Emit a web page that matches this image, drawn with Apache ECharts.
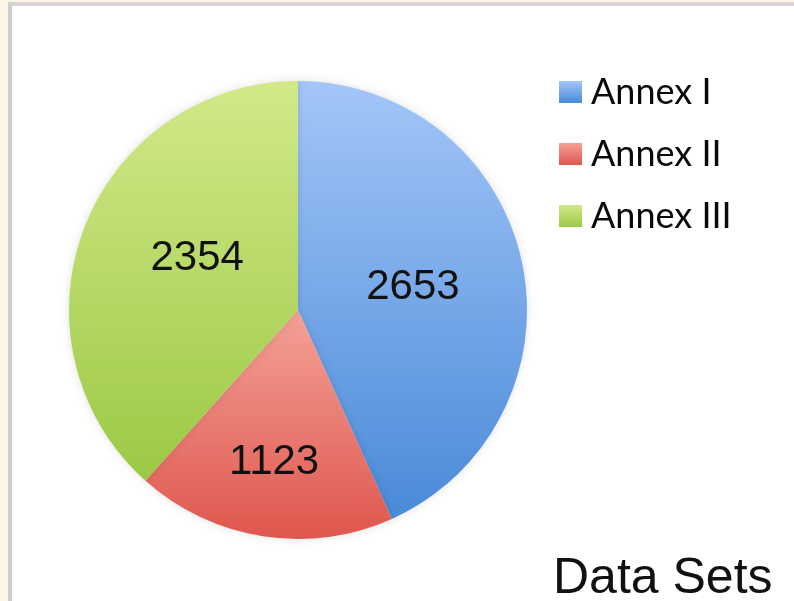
<!DOCTYPE html>
<html>
<head>
<meta charset="utf-8">
<script src="https://cdn.jsdelivr.net/npm/echarts@6/dist/echarts.min.js"></script>
<style>
  html, body { margin: 0; padding: 0; background: #fcf5e6; }
  #frame { position: absolute; left: 8px; top: 2px; width: 786px; height: 599px;
           border-left: 4px solid #cdcdcd; border-top: 4px solid #d5d5d5; background: #ffffff; box-sizing: border-box; }
  #chart { position: absolute; left: 0; top: 0; width: 794px; height: 601px; }
</style>
</head>
<body>
<div id="frame"></div>
<div id="chart"></div>
<script>
const categories = ['Annex I', 'Annex II', 'Annex III'];
const values = [2653, 1123, 2354];
const title = 'Data Sets';

const gradients = [
  ['#a3c6f8', '#4a8ad8'],
  ['#f4a197', '#df574e'],
  ['#d2e98a', '#9cc944']
];
const labelOffsets = [[0, 2], [-6, 36], [9, -10]];

const chart = echarts.init(document.getElementById('chart'), null, { renderer: 'canvas' });

const data = categories.map((name, i) => ({
  name: name,
  value: values[i],
  itemStyle: {
    color: new echarts.graphic.LinearGradient(0, 0, 0, 1, [
      { offset: 0, color: gradients[i][0] },
      { offset: 1, color: gradients[i][1] }
    ])
  },
  label: { offset: labelOffsets[i] }
}));

const legendColors = gradients.map(g => new echarts.graphic.LinearGradient(0, 0, 0, 1, [
  { offset: 0, color: g[0] }, { offset: 1, color: g[1] }
]));

chart.setOption({
  backgroundColor: 'transparent',
  animation: false,
  legend: {
    orient: 'vertical',
    left: 554,
    top: 67,
    icon: 'rect',
    itemWidth: 23,
    itemHeight: 22,
    itemGap: 22,
    data: categories.map((c, i) => ({ name: c, itemStyle: { color: legendColors[i] } })),
    textStyle: {
      fontFamily: 'Lato',
      fontSize: 36,
      color: '#0a0a0a',
      lineHeight: 40,
      padding: [0, 0, 0, 4]
    }
  },
  graphic: [{
    type: 'text',
    left: 553,
    top: 554,
    style: {
      text: title,
      font: '50px "Liberation Sans", Arial, sans-serif',
      fill: '#111111'
    }
  }],
  series: [{
    type: 'pie',
    center: [298, 310],
    radius: 229,
    startAngle: 90,
    clockwise: true,
    data: data,
    itemStyle: {
      shadowBlur: 8,
      shadowColor: 'rgba(0,0,0,0.12)'
    },
    label: {
      show: true,
      position: 'inside',
      formatter: '{c}',
      fontFamily: '"Liberation Sans", Arial, sans-serif',
      fontSize: 42,
      color: '#111111'
    },
    labelLine: { show: false },
    emphasis: { disabled: true }
  }]
});
</script>
</body>
</html>
